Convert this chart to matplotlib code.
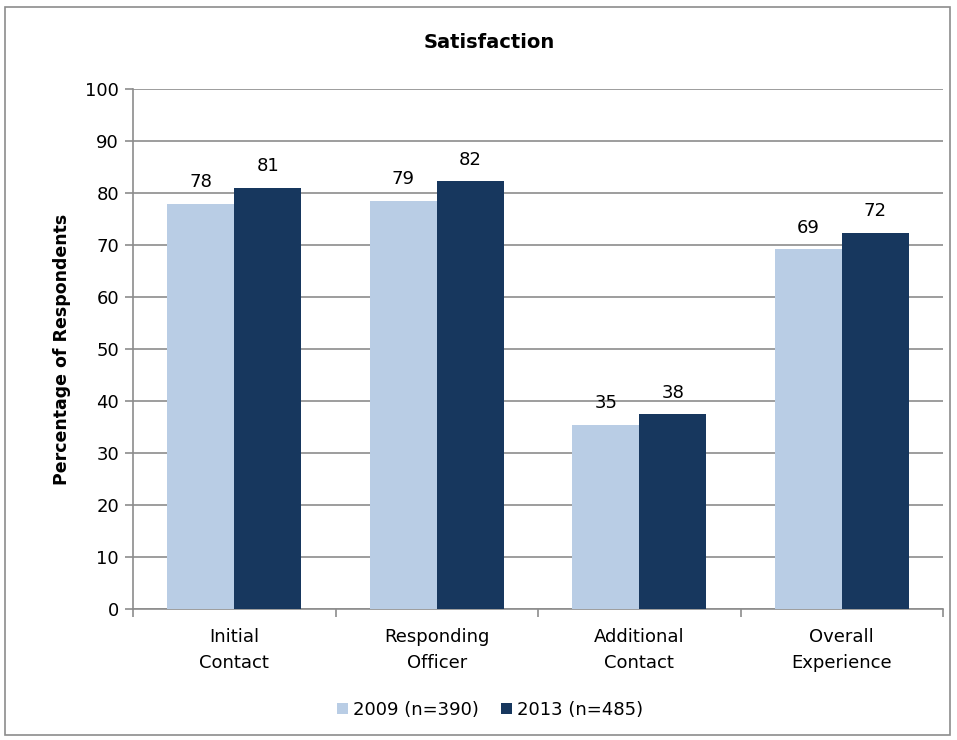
import matplotlib
matplotlib.use("Agg")
import matplotlib.pyplot as plt
import numpy as np
from matplotlib.patches import Rectangle

categories = ["Initial\nContact", "Responding\nOfficer", "Additional\nContact", "Overall\nExperience"]
series_names = ["2009 (n=390)", "2013 (n=485)"]
values_2009 = [77.9, 78.5, 35.4, 69.2]
values_2013 = [81.0, 82.3, 37.5, 72.4]
labels_2009 = ["78", "79", "35", "69"]
labels_2013 = ["81", "82", "38", "72"]
yticks = list(range(0, 101, 10))

c2009 = "#B9CDE5"
c2013 = "#17375E"
grid_c = "#8C8C8C"

plt.rcParams['font.family'] = ['DejaVu Sans']
fig = plt.figure(figsize=(9.57, 7.4), dpi=100)
fig.patches.append(Rectangle((5/957, 5/740), 945/957, 728/740, transform=fig.transFigure,
                             fill=False, edgecolor="#8C8C8C", linewidth=1.2))
ax = fig.add_axes([133/957, (740-609)/740, (943-133)/957, (609-89)/740])

x = np.arange(len(categories))
w = 0.33
b1 = ax.bar(x - w/2, values_2009, w, color=c2009, label=series_names[0], zorder=3)
b2 = ax.bar(x + w/2, values_2013, w, color=c2013, label=series_names[1], zorder=3)
for bars, labs in ((b1, labels_2009), (b2, labels_2013)):
    for bar, lab in zip(bars, labs):
        ax.text(bar.get_x() + bar.get_width()/2, bar.get_height() + 2.4, lab,
                ha="center", va="bottom", fontsize=13, color="black")

ax.set_xlim(-0.5, len(categories) - 0.5)
ax.set_ylim(0, 100)
ax.set_yticks(yticks)
ax.set_yticklabels([str(t) for t in yticks], fontsize=13)
ax.yaxis.grid(True, color=grid_c, linewidth=1.2, zorder=0)
ax.set_axisbelow(True)
ax.set_xticks(x)
ax.set_xticklabels(categories, fontsize=13, linespacing=1.55)
ax.tick_params(axis="x", length=0, pad=14)
ax.set_xticks(np.arange(-0.5, len(categories) + 0.5, 1.0), minor=True)
ax.tick_params(axis="x", which="minor", length=6, color=grid_c, width=1.2)
ax.tick_params(axis="y", length=6, color=grid_c, width=1.2, pad=4)
for s in ("top", "right"):
    ax.spines[s].set_visible(False)
for s in ("left", "bottom"):
    ax.spines[s].set_color(grid_c)
    ax.spines[s].set_linewidth(1.2)

ax.set_ylabel("Percentage of Respondents", fontsize=12.5, fontweight="bold", labelpad=10)
fig.text(489/957, 1 - 43/740, "Satisfaction", ha="center", va="center", fontsize=14, fontweight="bold")

fig.legend(handles=[b1, b2], labels=series_names, loc="center", bbox_to_anchor=(490/957, 1 - 710/740),
           ncol=2, frameon=False, fontsize=13, handlelength=0.6, handleheight=0.6,
           handletextpad=0.3, columnspacing=1.2)

fig.savefig("out.png", dpi=100)
